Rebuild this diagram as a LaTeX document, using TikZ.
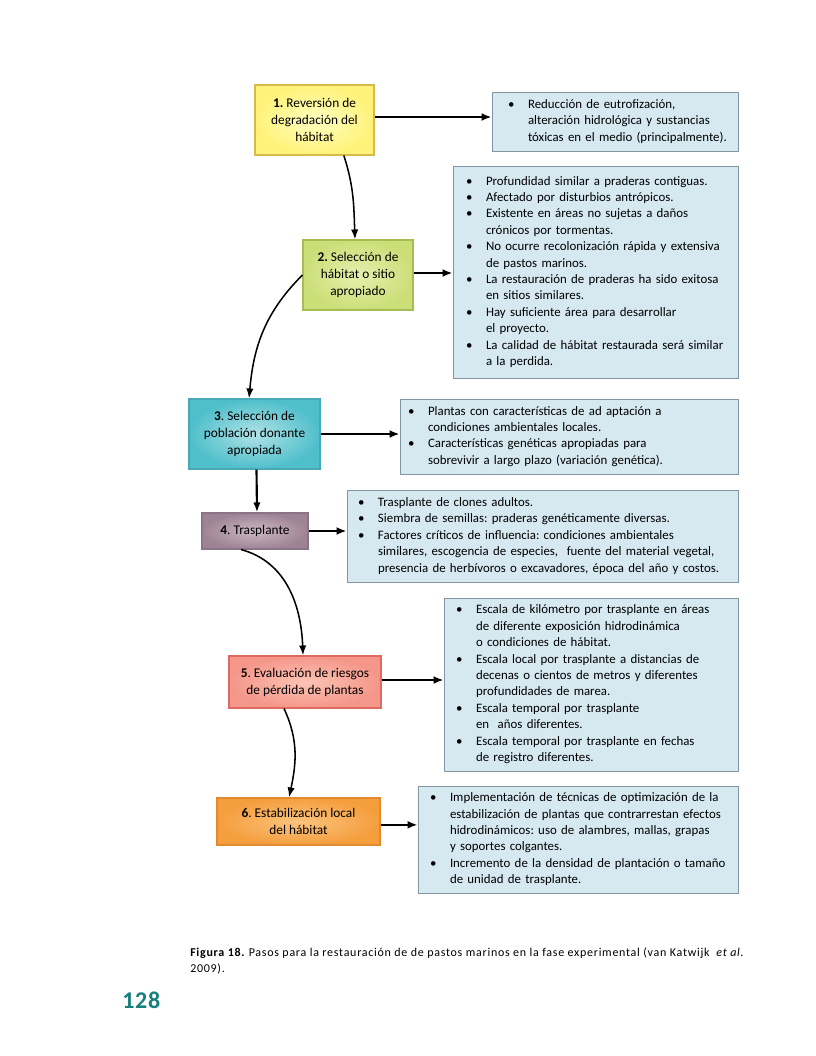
\documentclass[tikz,border=0pt]{standalone}
\usepackage{fontspec}
\setmainfont{Carlito}
\newfontfamily\capfont[LetterSpace=6]{Carlito}
\usetikzlibrary{arrows.meta}
\frenchspacing
\newlength\px \setlength\px{0.75pt}
\definecolor{yE}{HTML}{FFF27A}\definecolor{yC}{HTML}{FFFFC0}\definecolor{yB}{HTML}{D9BA48}
\definecolor{gE}{HTML}{CCDE78}\definecolor{gC}{HTML}{E6F0AE}\definecolor{gB}{HTML}{A6BD55}
\definecolor{tE}{HTML}{4FBFCB}\definecolor{tC}{HTML}{B0E2E6}\definecolor{tB}{HTML}{47A8B6}
\definecolor{mE}{HTML}{9E8394}\definecolor{mC}{HTML}{CDB8C4}\definecolor{mB}{HTML}{8C7385}
\definecolor{sE}{HTML}{F4968A}\definecolor{sC}{HTML}{FCC4B4}\definecolor{sB}{HTML}{E06A62}
\definecolor{oE}{HTML}{F59E3E}\definecolor{oC}{HTML}{FBC47E}\definecolor{oB}{HTML}{E38A2E}
\definecolor{rfill}{HTML}{D6E9F1}\definecolor{rborder}{HTML}{8394A3}
\definecolor{pgnum}{HTML}{17807E}
\newcommand{\blist}[1]{\begin{tabular}{@{}p{20\px}@{}l@{}}#1\end{tabular}}
\begin{document}
\begin{tikzpicture}[x=0.75pt,y=-0.75pt,
  stepbox/.style={draw, line width=0.8pt, align=center, inner sep=0pt,
    font=\fontsize{10}{12.75}\selectfont},
  rbox/.style={draw=rborder, fill=rfill, line width=0.7pt, inner ysep=0pt, align=left,
    font=\fontsize{9.65}{12.3}\selectfont},
  arr/.style={-{Latex[length=7.5pt,width=6pt]}, line width=1.6pt},
  carr/.style={-{Latex[length=7.5pt,width=5.5pt]}, line width=1.15pt}]
\useasboundingbox[fill=white] (0,0) rectangle (816,1056);

% step boxes
\node[stepbox, draw=yB, inner color=yC, outer color=yE, minimum width=119\px, minimum height=70\px]
  (b1) at (314.5,120) {\textbf{1.} Reversión de\\degradación del\\hábitat};
\node[stepbox, draw=gB, inner color=gC, outer color=gE, minimum width=110\px, minimum height=70\px]
  (b2) at (358,275) {\textbf{2.} Selección de\\hábitat o sitio\\apropiado};
\node[stepbox, draw=tB, inner color=tC, outer color=tE, minimum width=131\px, minimum height=70\px]
  (b3) at (254.5,434) {\textbf{3}. Selección de\\población donante\\apropiada};
\node[stepbox, draw=mB, inner color=mC, outer color=mE, minimum width=106\px, minimum height=36\px]
  (b4) at (255,531) {\textbf{4}. Trasplante};
\node[stepbox, draw=sB, inner color=sC, outer color=sE, minimum width=152\px, minimum height=52\px]
  (b5) at (305,682) {\textbf{5}. Evaluación de riesgos\\de pérdida de plantas};
\node[stepbox, draw=oB, inner color=oC, outer color=oE, minimum width=163\px, minimum height=47\px]
  (b6) at (298.5,821.5) {\textbf{6}. Estabilización local\\del hábitat};

% right boxes
\node[rbox, inner xsep=16\px, text width=214\px, minimum width=246\px, minimum height=59\px]
  (r1) at (615,121.5) {\blist{\textbullet & Reducción de eutrofización,\\
  & alteración hidrológica y sustancias\\
  & tóxicas en el medio (principalmente).}};
\node[rbox, inner xsep=13\px, text width=259\px, minimum width=285\px, minimum height=212\px]
  (r2) at (595.5,272) {\blist{\textbullet & Profundidad similar a praderas contiguas.\\
  \textbullet & Afectado por disturbios antrópicos.\\
  \textbullet & Existente en áreas no sujetas a daños\\
  & crónicos por tormentas.\\
  \textbullet & No ocurre recolonización rápida y extensiva\\
  & de pastos marinos.\\
  \textbullet & La restauración de praderas ha sido exitosa\\
  & en sitios similares.\\
  \textbullet & Hay suficiente área para desarrollar\\
  & el proyecto.\\
  \textbullet & La calidad de hábitat restaurada será similar\\
  & a la perdida.}};
\node[rbox, inner xsep=8\px, text width=322\px, minimum width=338\px, minimum height=75\px]
  (r3) at (569,436.5) {\blist{\textbullet & Plantas con características de ad aptación a\\
  & condiciones ambientales locales.\\
  \textbullet & Características genéticas apropiadas para\\
  & sobrevivir a largo plazo (variación genética).}};
\node[rbox, inner xsep=11\px, text width=369\px, minimum width=391\px, minimum height=92\px]
  (r4) at (542.5,536) {\blist{\textbullet & Trasplante de clones adultos.\\
  \textbullet & Siembra de semillas: praderas genéticamente diversas.\\
  \textbullet & Factores críticos de influencia: condiciones ambientales\\
  & similares, escogencia de especies,~ fuente del material vegetal,\\
  & presencia de herbívoros o excavadores, época del año y costos.}};
\node[rbox, inner xsep=12\px, text width=270\px, minimum width=294\px, minimum height=173\px]
  (r5) at (591,684.5) {\blist{\textbullet & Escala de kilómetro por trasplante en áreas\\
  & de diferente exposición hidrodinámica\\
  & o condiciones de hábitat.\\
  \textbullet & Escala local por trasplante a distancias de\\
  & decenas o cientos de metros y diferentes\\
  & profundidades de marea.\\
  \textbullet & Escala temporal por trasplante\\
  & en~ años diferentes.\\
  \textbullet & Escala temporal por trasplante en fechas\\
  & de registro diferentes.}};
\node[rbox, inner xsep=12\px, text width=296\px, minimum width=320\px, minimum height=107\px]
  (r6) at (578,839.5) {\blist{\textbullet & Implementación de técnicas de optimización de la\\
  & estabilización de plantas que contrarrestan efectos\\
  & hidrodinámicos: uso de alambres, mallas, grapas\\
  & y soportes colgantes.\\
  \textbullet & Incremento de la densidad de plantación o tamaño\\
  & de unidad de trasplante.}};

% horizontal arrows
\draw[arr] ([yshift=2.25pt]b1.east) -- ([yshift=2.25pt]b1.east -| r1.west);
\draw[arr] ([yshift=1.5pt]b2.east) -- ([yshift=1.5pt]b2.east -| r2.west);
\draw[arr] (b3.east) -- (b3.east -| r3.west);
\draw[arr] (b4.east) -- (b4.east -| r4.west);
\draw[arr] ([yshift=1.5pt]b5.east) -- ([yshift=1.5pt]b5.east -| r5.west);
\draw[arr] ([yshift=-2.5pt]b6.east) -- ([yshift=-2.5pt]b6.east -| r6.west);

% vertical flow
\draw[carr] ([xshift=22pt]b1.south) to[out=-72,in=92] ([xshift=-2.25pt]b2.north);
\draw[carr] (b2.west) to[out=225,in=85] ([xshift=-4.1pt]b3.north);
\draw[carr, line width=1.6pt] ([xshift=1.5pt]b3.south) -- ([xshift=1.5pt]b4.north);
\draw[carr] ([xshift=-10.5pt]b4.south) to[out=-15,in=92] ([xshift=-1.5pt]b5.north);
\draw[carr] ([xshift=-15.75pt]b5.south) to[out=-65,in=78] ([xshift=-7.1pt]b6.north);

% caption and page number
\node[anchor=base west, inner sep=0pt, align=left, font=\capfont\fontsize{9}{12}\selectfont]
  (cap) at (190,972) {\textbf{Figura 18.} Pasos para la restauración de de pastos marinos en la fase experimental (van Katwijk~ \textit{et al.}\\2009).};
\node[anchor=base west, inner sep=0pt, text=pgnum, font=\fontsize{18}{20}\selectfont\bfseries]
  (pg) at (122,1008) {\addfontfeature{LetterSpace=3}128};
\end{tikzpicture}
\end{document}
